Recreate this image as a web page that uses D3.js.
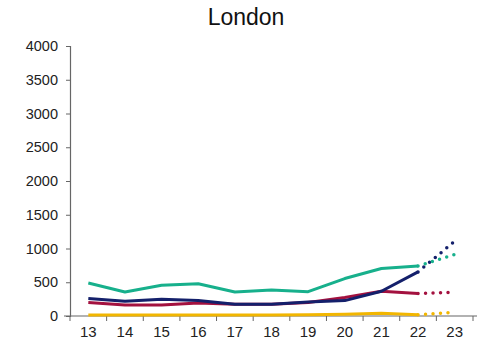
<!DOCTYPE html>
<html><head><meta charset="utf-8">
<script src="https://cdn.jsdelivr.net/npm/d3@7"></script>
<style>body{margin:0;background:#fff;} svg{display:block;font-family:Arial,"Liberation Sans",sans-serif;}</style>
</head><body>
<svg id="c" width="477" height="357"></svg>
<script>
const title = "London";
const categories = ["13","14","15","16","17","18","19","20","21","22","23"];
const yTicks = [0,500,1000,1500,2000,2500,3000,3500,4000];
// actual values for 13..22, projection 22..23
const greenVals  = [490, 356, 455, 478, 356, 386, 360, 555, 703, 742];
const navyVals   = [258, 218, 248, 228, 174, 174, 208, 228, 366, 653];
const redVals    = [199, 163, 163, 194, 174, 174, 199, 273, 366, 332];
const yellowVals = [15, 15, 15, 15, 15, 15, 18, 25, 40, 20];
const greenProj  = [742, 911];
const navyProj   = [653, 1108];
const redProj    = [332, 352];
const yellowProj = [20, 55];

const series = [
  {vals: yellowVals, proj: yellowProj, color: "#f2b600"},
  {vals: redVals,    proj: redProj,    color: "#a3113f"},
  {vals: navyVals,   proj: navyProj,   color: "#14206b"},
  {vals: greenVals,  proj: greenProj,  color: "#17b08c"}
];

const svg = d3.select("#c");
const x = d3.scaleBand().domain(categories).range([70, 473]);
const y = d3.scaleLinear().domain([0, 4000]).range([316, 46]);

svg.append("text").attr("x", 246).attr("y", 25).attr("text-anchor", "middle")
  .attr("font-size", 23).attr("fill", "#111").text(title);

// y axis
const ya = svg.append("g").attr("transform", "translate(70,0)")
  .call(d3.axisLeft(y).tickValues(yTicks).tickSize(4).tickPadding(8).tickFormat(d3.format("d")));
ya.select(".domain").attr("stroke", "#666").attr("stroke-width", 1.2);
ya.selectAll(".tick line").attr("stroke", "#666");
ya.selectAll("text").attr("font-size", 14.5).attr("fill", "#222").attr("font-family", "Arial,'Liberation Sans',sans-serif");

// x axis
const xa = svg.append("g").attr("transform", "translate(0,316)");
xa.append("line").attr("x1", 64).attr("x2", 477).attr("y1", 0).attr("y2", 0).attr("stroke", "#666").attr("stroke-width", 1.2);
const bounds = categories.map(c => x(c)).concat([x.range()[1]]);
xa.selectAll("line.t").data(bounds).join("line").attr("class", "t")
  .attr("x1", d => d).attr("x2", d => d).attr("y1", 0).attr("y2", 5).attr("stroke", "#666");
xa.selectAll("text").data(categories).join("text")
  .attr("x", d => x(d) + x.bandwidth()/2).attr("y", 21).attr("text-anchor", "middle")
  .attr("font-size", 15).attr("fill", "#222").text(d => d);

const cx = i => x(categories[i]) + x.bandwidth()/2;
const line = d3.line().x(d => d.x).y(d => y(d.v));

series.forEach(s => {
  const pts = s.vals.map((v, i) => ({x: cx(i), v}));
  svg.append("path").attr("d", line(pts)).attr("fill", "none")
    .attr("stroke", s.color).attr("stroke-width", 3).attr("stroke-linejoin", "round");
  const n = s.vals.length - 1;
  const pp = s.proj.map((v, i) => ({x: cx(n + i), v}));
  svg.append("path").attr("d", line(pp)).attr("fill", "none")
    .attr("stroke", s.color).attr("stroke-width", 3.5).attr("stroke-linecap", "round")
    .attr("stroke-dasharray", "0 7.5").attr("stroke-dashoffset", -7.5);
});
</script>
</body></html>
